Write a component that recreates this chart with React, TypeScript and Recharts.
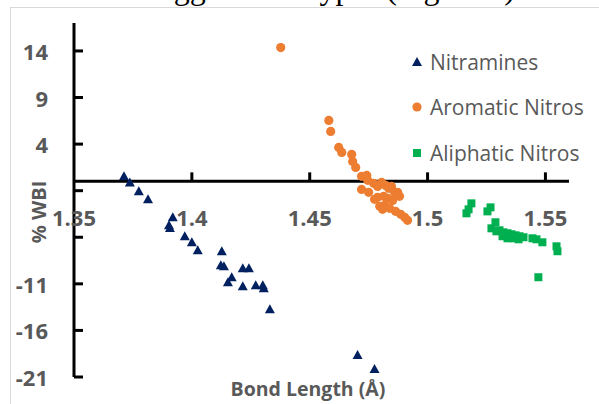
import { Legend, ReferenceLine, Scatter, ScatterChart, XAxis, YAxis } from "recharts";

// bond length (Å) vs % WBI
const nitramines: [number, number][] = [
  [1.3712, 0.54], [1.3737, -0.11], [1.3775, -1.07], [1.3814, -1.93], [1.3919, -3.86],
  [1.3903, -4.7], [1.3907, -5.0], [1.397, -5.89], [1.4, -6.54], [1.4025, -7.4],
  [1.4127, -7.5], [1.4123, -9.0], [1.4136, -9.11], [1.4216, -9.32], [1.4242, -9.32],
  [1.4169, -10.29], [1.4153, -10.83], [1.4216, -11.25], [1.4271, -11.15], [1.4301, -11.15],
  [1.4305, -11.47], [1.4331, -13.72], [1.4703, -18.65], [1.4775, -20.15],
];

const aromaticNitros: [number, number][] = [
  [1.4377, 14.36], [1.4581, 6.54], [1.4589, 5.36], [1.4623, 3.64], [1.4636, 3.11],
  [1.4678, 2.89], [1.4682, 2.14], [1.4695, 1.5], [1.472, 0.54], [1.4742, 0.64],
  [1.4746, 0.11], [1.472, -0.86], [1.475, -1.18], [1.4771, -0.21], [1.4788, -0.54],
  [1.4805, -0.11], [1.4822, -0.43], [1.4835, -0.75], [1.4847, -0.54], [1.486, -1.18],
  [1.4873, -1.18], [1.4881, -1.61], [1.4788, -1.71], [1.4814, -1.61], [1.4831, -1.82],
  [1.4852, -2.04], [1.4797, -2.68], [1.4818, -2.57], [1.4839, -2.89], [1.4864, -3.22],
  [1.4886, -3.54], [1.4903, -3.86], [1.4915, -4.18], [1.4809, -3.0], [1.4775, -1.93],
];

const aliphaticNitros: [number, number][] = [
  [1.5165, -3.43], [1.5174, -3.0], [1.5186, -2.36], [1.5254, -3.22], [1.5267, -2.79],
  [1.5288, -4.39], [1.5271, -5.04], [1.5292, -5.36], [1.5305, -5.25], [1.5322, -5.47],
  [1.5339, -5.57], [1.5356, -5.68], [1.5373, -5.79], [1.539, -5.89], [1.5407, -6.0],
  [1.5318, -5.89], [1.5339, -6.11], [1.5364, -6.11], [1.5386, -6.22], [1.5445, -6.11],
  [1.5462, -6.22], [1.5487, -6.54], [1.5547, -6.97], [1.5551, -7.5], [1.547, -10.29],
];

const xTicks = [1.35, 1.4, 1.45, 1.5, 1.55];
const yTicks = [-21, -16, -11, -6, -1, 4, 9, 14];
const hiddenYLabels = [-6, -1]; // hidden under the axis title in the original

const X_DOMAIN: [number, number] = [1.35, 1.56];
const Y_DOMAIN: [number, number] = [-21, 17];

const W = 599;
const H = 404;
const PLOT_LEFT = 74;
const PLOT_TOP = 23;
const PLOT_BOTTOM = 377;
const ZERO_Y = PLOT_TOP + ((PLOT_BOTTOM - PLOT_TOP) * Y_DOMAIN[1]) / (Y_DOMAIN[1] - Y_DOMAIN[0]);

const GREY = "#595959";
const FONT = "'Open Sans', sans-serif";

type Marker = "triangle" | "circle" | "square";

const series: { name: string; color: string; marker: Marker; points: [number, number][] }[] = [
  { name: "Nitramines", color: "#002060", marker: "triangle", points: nitramines },
  { name: "Aromatic Nitros", color: "#ED7D31", marker: "circle", points: aromaticNitros },
  { name: "Aliphatic Nitros", color: "#00B050", marker: "square", points: aliphaticNitros },
];

function drawMarker(marker: Marker, cx: number, cy: number, color: string) {
  if (marker === "triangle")
    return <polygon points={`${cx},${cy - 5} ${cx + 5},${cy + 4} ${cx - 5},${cy + 4}`} fill={color} />;
  if (marker === "circle") return <circle cx={cx} cy={cy} r={4.6} fill={color} />;
  return <rect x={cx - 4} y={cy - 4} width={8} height={8} fill={color} />;
}

function XTick(props: any) {
  const { x, payload } = props;
  return (
    <g>
      {payload.value !== X_DOMAIN[0] && (
        <line x1={x} x2={x} y1={ZERO_Y - 9} y2={ZERO_Y} stroke="#000" strokeWidth={3} />
      )}
      <text x={x} y={ZERO_Y + 36} textAnchor="middle" dominantBaseline="central" fill={GREY} fontSize={22} fontWeight="bold" fontFamily={FONT}>
        {payload.value}
      </text>
    </g>
  );
}

function YTick(props: any) {
  const { y, payload } = props;
  return (
    <g>
      <line x1={PLOT_LEFT} x2={PLOT_LEFT + 9} y1={y} y2={y} stroke="#000" strokeWidth={3} />
      {!hiddenYLabels.includes(payload.value) && (
        <text x={PLOT_LEFT - 26} y={y} textAnchor="end" dominantBaseline="central" fill={GREY} fontSize={22} fontWeight="bold" fontFamily={FONT}>
          {payload.value}
        </text>
      )}
    </g>
  );
}

const XTitle = () => (
  <text x={308} y={388} textAnchor="middle" dominantBaseline="central" fill={GREY} fontSize={19.5} fontWeight="bold" fontFamily={FONT}>
    Bond Length (Å)
  </text>
);

const YTitle = () => (
  <text x={38} y={212} transform="rotate(-90 38 212)" textAnchor="middle" dominantBaseline="central" fill={GREY} fontSize={20} fontWeight="bold" fontFamily={FONT}>
    % WBI
  </text>
);

function LegendContent() {
  return (
    <div style={{ fontFamily: FONT, fontSize: 21, color: GREY }}>
      {series.map((s) => (
        <div key={s.name} style={{ height: 45.5, display: "flex", alignItems: "center" }}>
          <svg width={24} height={14} style={{ marginRight: 1 }}>
            {drawMarker(s.marker, 12, 7, s.color)}
          </svg>
          <span>{s.name}</span>
        </div>
      ))}
    </div>
  );
}

export default function App() {
  return (
    <div style={{ position: "absolute", left: 0, top: 0, width: W, height: H, overflow: "hidden", background: "#fff" }}>
      <svg width={W} height={H} style={{ position: "absolute", left: 0, top: 0 }}>
        {/* tail of the paper's text line above the figure, cut by the crop */}
        <text x={523} y={-1} textAnchor="end" fontFamily="'Liberation Serif', serif" fontSize={32} fill="#000">
          seen in bigger bond types (Figure 4).
        </text>
        <rect x={10.5} y={7.5} width={620} height={420} fill="none" stroke="#d9d9d9" />
      </svg>
      <div style={{ position: "absolute", left: 0, top: 0 }}>
        <ScatterChart width={W} height={H} margin={{ top: PLOT_TOP, right: 30, bottom: 0, left: 0 }}>
          <XAxis
            type="number"
            dataKey="x"
            domain={X_DOMAIN}
            ticks={xTicks}
            interval={0}
            allowDataOverflow
            axisLine={false}
            tickLine={false}
            tickSize={0}
            height={H - PLOT_BOTTOM}
            tick={XTick}
            label={{ content: XTitle }}
          />
          <YAxis
            type="number"
            dataKey="y"
            domain={Y_DOMAIN}
            ticks={yTicks}
            interval={0}
            allowDataOverflow
            axisLine={{ stroke: "#000", strokeWidth: 3 }}
            tickLine={false}
            width={PLOT_LEFT}
            tick={YTick}
            label={{ content: YTitle }}
          />
          <ReferenceLine y={0} stroke="#000" strokeWidth={3} />
          {series.map((s) => (
            <Scatter
              key={s.name}
              name={s.name}
              data={s.points.map(([x, y]) => ({ x, y }))}
              fill={s.color}
              isAnimationActive={false}
              shape={(p: any) => drawMarker(s.marker, p.cx, p.cy, s.color)}
            />
          ))}
          <Legend
            layout="horizontal"
            verticalAlign="middle"
            align="center"
            wrapperStyle={{ position: "absolute", left: 405, top: 39, width: 194 }}
            content={LegendContent}
          />
        </ScatterChart>
      </div>
    </div>
  );
}
